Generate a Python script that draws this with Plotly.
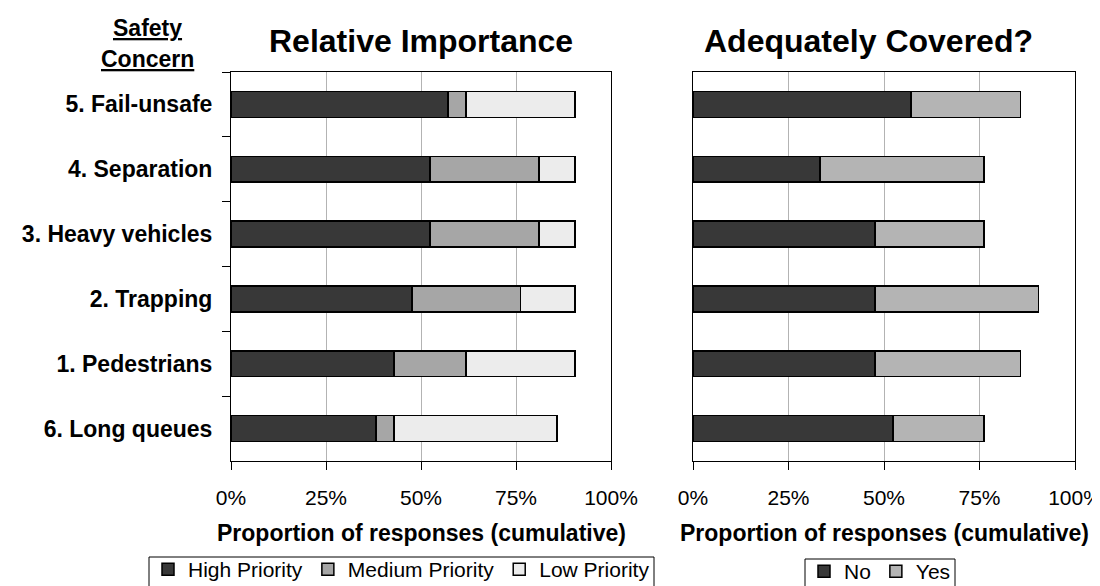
import plotly.graph_objects as go

# ---- data (percent of responses) ----
categories = ["5. Fail-unsafe", "4. Separation", "3. Heavy vehicles",
              "2. Trapping", "1. Pedestrians", "6. Long queues"]

high_priority = [57.1, 52.4, 52.4, 47.6, 42.9, 38.1]
medium_priority = [4.8, 28.6, 28.6, 28.6, 19.0, 4.8]
low_priority = [28.6, 9.5, 9.5, 14.3, 28.6, 42.9]

covered_no = [57.1, 33.3, 47.6, 47.6, 47.6, 52.4]
covered_yes = [28.6, 42.9, 28.6, 42.9, 38.1, 23.8]

tick_vals = [0, 25, 50, 75, 100]
tick_text = ["0%", "25%", "50%", "75%", "100%"]

W, H = 1100, 586
FONT = "Liberation Sans, Arial, sans-serif"


def fx(px):
    return px / W


def fy(py):
    return 1 - py / H


fig = go.Figure()

left_series = [("High Priority", high_priority, "#383838"),
               ("Medium Priority", medium_priority, "#a6a6a6"),
               ("Low Priority", low_priority, "#ececec")]
for name, vals, col in left_series:
    fig.add_trace(go.Bar(
        y=categories, x=vals, orientation="h", name=name,
        marker=dict(color=col, line=dict(color="black", width=1.5)),
        xaxis="x", yaxis="y", legend="legend"))

right_series = [("No", covered_no, "#383838"),
                ("Yes", covered_yes, "#b4b4b4")]
for name, vals, col in right_series:
    fig.add_trace(go.Bar(
        y=categories, x=vals, orientation="h", name=name,
        marker=dict(color=col, line=dict(color="black", width=1.5)),
        xaxis="x2", yaxis="y2", legend="legend2"))

y_domain = [fy(453), fy(64)]

xaxis_common = dict(
    range=[0, 100], tickmode="array", tickvals=tick_vals, ticktext=tick_text,
    ticks="outside", ticklen=8, tickcolor="black", tickwidth=1,
    showline=True, linecolor="black", linewidth=1, mirror=True,
    showgrid=True, gridcolor="#b3b3b3", gridwidth=1, zeroline=False,
    tickfont=dict(family=FONT, size=21, color="black"),
    ticklabelstandoff=10, fixedrange=True)

yaxis_common = dict(
    type="category", categoryorder="array", categoryarray=categories,
    autorange="reversed", showline=True, linecolor="black", linewidth=1,
    mirror=True, showgrid=False, zeroline=False, fixedrange=True)

legend_common = dict(orientation="h", xanchor="center", yanchor="top",
                     borderwidth=0, bgcolor="rgba(0,0,0,0)", traceorder="normal",
                     font=dict(family=FONT, size=21, color="black"))

fig.update_layout(
    width=W, height=H,
    margin=dict(l=0, r=0, t=0, b=0, autoexpand=False),
    paper_bgcolor="white", plot_bgcolor="white",
    barmode="stack", bargap=0.6,
    font=dict(family=FONT, color="black"),
    xaxis=dict(domain=[fx(223), fx(603)], anchor="y", **xaxis_common),
    yaxis=dict(domain=y_domain, anchor="x", ticks="outside", tickson="boundaries",
               ticklen=8, tickcolor="black",
               tickfont=dict(family=FONT, size=23, color="black", weight="bold"),
               ticklabelstandoff=13, **yaxis_common),
    xaxis2=dict(domain=[fx(685), fx(1067)], anchor="y2", **xaxis_common),
    yaxis2=dict(domain=y_domain, anchor="x2", ticks="", showticklabels=False,
                **yaxis_common),
    legend=dict(x=fx(393.5), y=fy(541), **legend_common),
    legend2=dict(x=fx(872), y=fy(543), **legend_common),
    showlegend=True,
)

# legend frames (bottom edge runs off the page as in the original)
for x0, x1, y0 in [(141, 646, 549), (797, 947, 551)]:
    fig.add_shape(type="rect", xref="paper", yref="paper",
                  x0=fx(x0), x1=fx(x1), y0=fy(600), y1=fy(y0),
                  line=dict(color="black", width=1), fillcolor="rgba(0,0,0,0)",
                  layer="below")

annos = [
    dict(text="<b>Relative Importance</b>", x=fx(413), y=fy(33), size=32),
    dict(text="<b>Adequately Covered?</b>", x=fx(860), y=fy(33), size=32),
    dict(text="<b>Proportion of responses (cumulative)</b>", x=fx(413), y=fy(525), size=23),
    dict(text="<b>Proportion of responses (cumulative)</b>", x=fx(876), y=fy(525), size=23),
    dict(text="<b><u>Safety</u></b>", x=fx(140), y=fy(20), size=23),
    dict(text="<b><u>Concern</u></b>", x=fx(140), y=fy(51), size=23),
]
for a in annos:
    fig.add_annotation(text=a["text"], x=a["x"], y=a["y"], xref="paper", yref="paper",
                       xanchor="center", yanchor="middle", showarrow=False,
                       font=dict(family=FONT, size=a["size"], color="black"))

fig.write_html("out.html")
